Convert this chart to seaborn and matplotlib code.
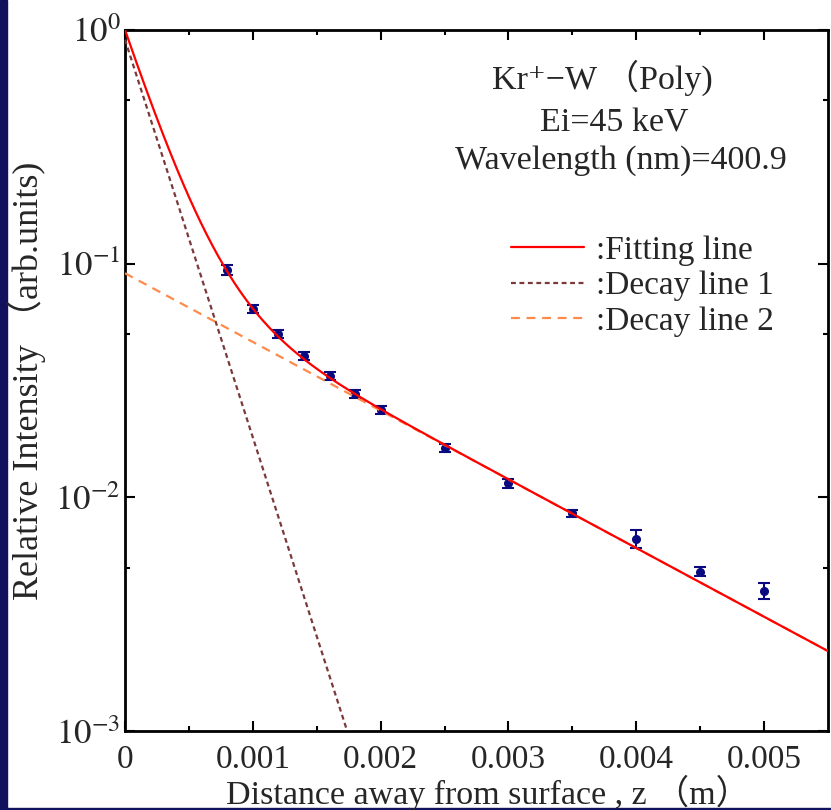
import numpy as np
import seaborn as sns
import matplotlib.pyplot as plt
from matplotlib.patches import Rectangle
from matplotlib.ticker import FixedLocator, FixedFormatter, NullFormatter

# ── Data ────────────────────────────────────────────────────────────
z_obs = [0.0008, 0.0010, 0.0012, 0.0014, 0.0016, 0.0018, 0.0020,
         0.0025, 0.0030, 0.0035, 0.0040, 0.0045, 0.0050]
i_obs = [0.094, 0.064, 0.050, 0.0403, 0.0331, 0.0277, 0.0237,
         0.0163, 0.0115, 0.00857, 0.00664, 0.00481, 0.00398]
i_err = [0.0047, 0.0025, 0.0020, 0.0016, 0.0013, 0.0011, 0.0010,
         0.0006, 0.0005, 0.0003, 0.0006, 0.0002, 0.0003]

# two-exponential fit: I(z) = A1 exp(-k1 z) + A2 exp(-k2 z)
A1, k1 = 0.91, 3920.0
A2, k2 = 0.091, 677.0

x_ticks = [0, 0.001, 0.002, 0.003, 0.004, 0.005]
x_ticklabels = ['0', '0.001', '0.002', '0.003', '0.004', '0.005']
y_ticks = [1e-3, 1e-2, 1e-1, 1e0]
y_ticklabels = [r'$10^{-3}$', r'$10^{-2}$', r'$10^{-1}$', r'$10^{0}$']
y_minor = [5e-3, 5e-2, 5e-1]

legend_labels = [':Fitting line', ':Decay line 1', ':Decay line 2']

NAVY = '#11115e'
SERIF = ['Liberation Serif', 'Noto Sans CJK JP', 'DejaVu Serif']

# ── Style ───────────────────────────────────────────────────────────
sns.set_theme(style='ticks')
plt.rcParams['font.family'] = SERIF
plt.rcParams['mathtext.fontset'] = 'stix'

fig = plt.figure(figsize=(8.31, 8.10), dpi=100)
fig.patch.set_facecolor('white')
fig.patches.append(Rectangle((0, 0), 7 / 831, 1, transform=fig.transFigure,
                             color=NAVY, zorder=-1))
fig.patches.append(Rectangle((0, 0), 1, 2.5 / 810, transform=fig.transFigure,
                             color=NAVY, zorder=-1))

ax = fig.add_axes([125 / 831, 1 - 731 / 810, (828 - 125) / 831, (731 - 30) / 810])

# measured points
ax.errorbar(z_obs, i_obs, yerr=i_err, fmt='o', color='#0a0a80', ms=5.5,
            elinewidth=1.5, capsize=4, capthick=1.5, zorder=2)

# fit curves
z = np.linspace(0, 0.0055, 500)
d1 = A1 * np.exp(-k1 * z)
d2 = A2 * np.exp(-k2 * z)
sns.lineplot(x=z, y=d1 + d2, color='#ff0000', lw=1.6, ax=ax,
             label=legend_labels[0], zorder=4)
sns.lineplot(x=z, y=d1, color='#7a3a3a', lw=1.6, ax=ax,
             label=legend_labels[1], zorder=3, linestyle=(0, (2.2, 1.6)))
sns.lineplot(x=z, y=d2, color='#ff8a4c', lw=1.6, ax=ax,
             label=legend_labels[2], zorder=3, linestyle=(0, (4, 3)))

ax.set_yscale('log')
ax.set_xlim(0, 0.0055)
ax.set_ylim(1e-3, 1)

ax.xaxis.set_major_locator(FixedLocator(x_ticks))
ax.xaxis.set_major_formatter(FixedFormatter(x_ticklabels))
ax.xaxis.set_minor_locator(FixedLocator(np.arange(0.0005, 0.0055, 0.001)))
ax.yaxis.set_major_locator(FixedLocator(y_ticks))
ax.yaxis.set_major_formatter(FixedFormatter(y_ticklabels))
ax.yaxis.set_minor_locator(FixedLocator(y_minor))
ax.yaxis.set_minor_formatter(NullFormatter())

ax.tick_params(which='both', direction='in', top=True, right=True,
               width=1.5, color='black')
ax.tick_params(which='major', length=7)
ax.tick_params(which='minor', length=3.5)
ax.tick_params(axis='x', which='major', labelsize=24, pad=10)
ax.tick_params(axis='y', which='major', labelsize=25, pad=3)
for s in ax.spines.values():
    s.set_linewidth(2)
    s.set_color('black')

ax.set_xlabel('Distance away from surface , z （m）', fontsize=24.5)
ax.xaxis.set_label_coords(0.516, -0.063)
ax.xaxis.label.set_verticalalignment('top')
ax.set_ylabel('Relative Intensity （arb.units)', fontsize=26)
ax.yaxis.set_label_coords(-0.112, 0.5)

# annotation
ax.text(0.522, 0.9315, 'Kr⁺−W （Poly)', transform=ax.transAxes,
        fontsize=24.5, ha='left', va='center')
ax.text(0.6956, 0.867, 'Ei=45 keV', transform=ax.transAxes,
        fontsize=24.5, ha='center', va='center')
ax.text(0.7055, 0.813, 'Wavelength (nm)=400.9', transform=ax.transAxes,
        fontsize=24.5, ha='center', va='center')

ax.legend(loc='upper left', bbox_to_anchor=(0.549, 0.707), frameon=False,
          fontsize=24, handlelength=2.2, handletextpad=0.35,
          labelspacing=0.15, borderpad=0, borderaxespad=0)

fig.savefig('out.png', dpi=100)
